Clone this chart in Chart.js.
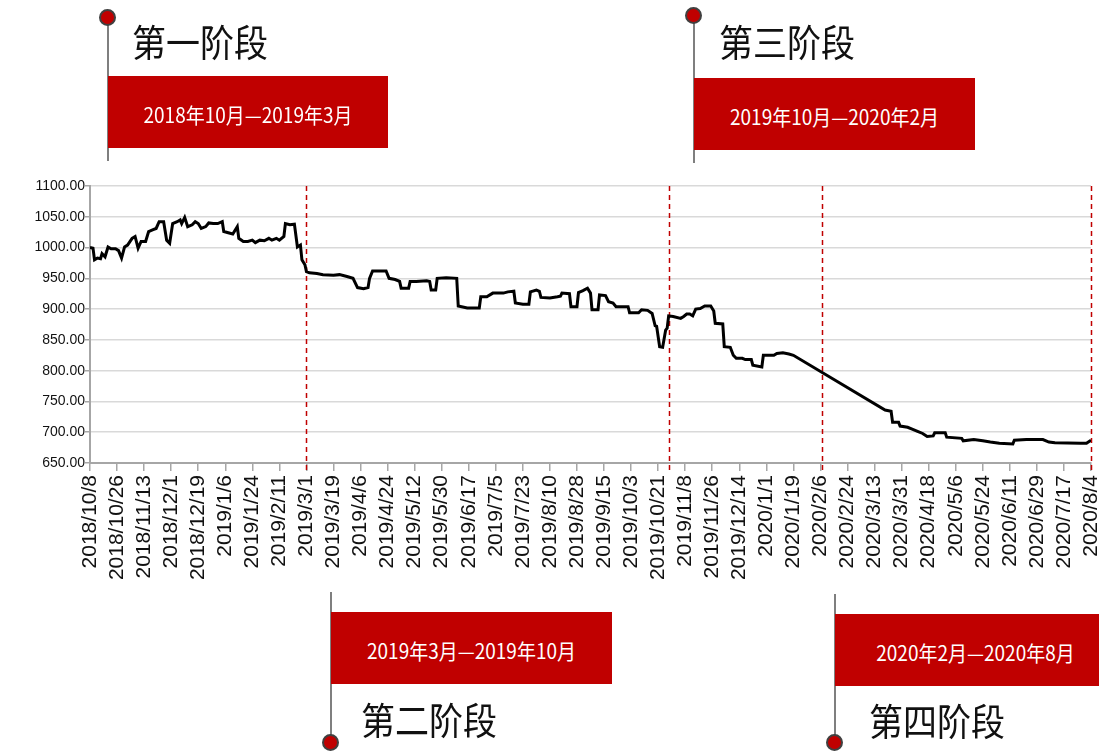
<!DOCTYPE html>
<html>
<head>
<meta charset="utf-8">
<script src="https://cdn.jsdelivr.net/npm/chart.js@4.4.0/dist/chart.umd.min.js"></script>
<style>
  html, body { margin: 0; padding: 0; background: #fff; }
  #wrap { position: relative; width: 1099px; height: 753px; overflow: hidden; }
  #chart { position: absolute; left: 0; top: 0; }
  .stem { position: absolute; width: 2px; background: #7f7f7f; }
  .dot { position: absolute; width: 13px; height: 13px; border-radius: 50%; background: #c00000; border: 2px solid #404040; }
  .box { position: absolute; height: 72px; background: #c00000; color: #fff;
         font: 19px "Noto Sans CJK SC", sans-serif; display: flex; align-items: center; justify-content: center;
         box-sizing: border-box; padding-top: 3px; }
  .box span { display: inline-block; transform: scaleY(1.1); }
  .title { position: absolute; font: 34px "Noto Sans CJK SC", sans-serif; color: #111; line-height: 1;
           transform: scaleY(1.1); transform-origin: left top; white-space: nowrap; }
</style>
</head>
<body>
<div id="wrap">
  <canvas id="chart" width="1099" height="753"></canvas>

  <div class="stem" style="left:107px;top:18px;height:143px"></div>
  <div class="dot" style="left:99px;top:9px"></div>
  <div class="title" style="left:132px;top:23px">第一阶段</div>
  <div class="box" style="left:108px;top:76px;width:280px"><span>2018年10月—2019年3月</span></div>

  <div class="stem" style="left:693px;top:16px;height:147px"></div>
  <div class="dot" style="left:685px;top:7px"></div>
  <div class="title" style="left:719px;top:23px">第三阶段</div>
  <div class="box" style="left:694px;top:78px;width:281px"><span>2019年10月—2020年2月</span></div>

  <div class="stem" style="left:330px;top:592px;height:148px"></div>
  <div class="dot" style="left:322px;top:734px"></div>
  <div class="box" style="left:331px;top:612px;width:281px"><span>2019年3月—2019年10月</span></div>
  <div class="title" style="left:361px;top:701px">第二阶段</div>

  <div class="stem" style="left:834px;top:594px;height:146px"></div>
  <div class="dot" style="left:826px;top:734px"></div>
  <div class="box" style="left:835px;top:614px;width:281px"><span>2020年2月—2020年8月</span></div>
  <div class="title" style="left:869px;top:702px">第四阶段</div>
</div>

<script>
// tick labels on the date axis (every 18 days)
const tickLabels = [
  "2018/10/8", "2018/10/26", "2018/11/13", "2018/12/1", "2018/12/19", "2019/1/6", "2019/1/24",
  "2019/2/11", "2019/3/1", "2019/3/19", "2019/4/6", "2019/4/24", "2019/5/12", "2019/5/30",
  "2019/6/17", "2019/7/5", "2019/7/23", "2019/8/10", "2019/8/28", "2019/9/15", "2019/10/3",
  "2019/10/21", "2019/11/8", "2019/11/26", "2019/12/14", "2020/1/1", "2020/1/19", "2020/2/6",
  "2020/2/24", "2020/3/13", "2020/3/31", "2020/4/18", "2020/5/6", "2020/5/24", "2020/6/11",
  "2020/6/29", "2020/7/17", "2020/8/4"
];

const dates = [
  "2018/10/8", "2018/10/10", "2018/10/11", "2018/10/13", "2018/10/15", "2018/10/16", "2018/10/18", "2018/10/20", "2018/10/22", "2018/10/25", "2018/10/27", "2018/10/29", "2018/10/31",
  "2018/11/2", "2018/11/5", "2018/11/7", "2018/11/9", "2018/11/11", "2018/11/14", "2018/11/16", "2018/11/19", "2018/11/21", "2018/11/23", "2018/11/26", "2018/11/28", "2018/11/30",
  "2018/12/2", "2018/12/5", "2018/12/7", "2018/12/8", "2018/12/10", "2018/12/12", "2018/12/15", "2018/12/17", "2018/12/19", "2018/12/21", "2018/12/24", "2018/12/26", "2018/12/29",
  "2019/1/1", "2019/1/4", "2019/1/5", "2019/1/8", "2019/1/11", "2019/1/14", "2019/1/15", "2019/1/18", "2019/1/21", "2019/1/24", "2019/1/26", "2019/1/29",
  "2019/2/1", "2019/2/4", "2019/2/6", "2019/2/9", "2019/2/11", "2019/2/14", "2019/2/15", "2019/2/18", "2019/2/21", "2019/2/23", "2019/2/25", "2019/2/26", "2019/2/28",
  "2019/3/1", "2019/3/3", "2019/3/8", "2019/3/12", "2019/3/19", "2019/3/23", "2019/3/28", "2019/4/1", "2019/4/4", "2019/4/8", "2019/4/11", "2019/4/12", "2019/4/14", "2019/4/23", "2019/4/25", "2019/4/29",
  "2019/5/2", "2019/5/3", "2019/5/8", "2019/5/9", "2019/5/13", "2019/5/20", "2019/5/22", "2019/5/23", "2019/5/26", "2019/5/27", "2019/6/2", "2019/6/9", "2019/6/10", "2019/6/16", "2019/6/24", "2019/6/25", "2019/6/29",
  "2019/7/3", "2019/7/10", "2019/7/13", "2019/7/17", "2019/7/18", "2019/7/23", "2019/7/27", "2019/7/28", "2019/8/1", "2019/8/3", "2019/8/4", "2019/8/10", "2019/8/15", "2019/8/17", "2019/8/18", "2019/8/23", "2019/8/24", "2019/8/28", "2019/8/29",
  "2019/9/1", "2019/9/4", "2019/9/6", "2019/9/7", "2019/9/11", "2019/9/12", "2019/9/16", "2019/9/18", "2019/9/21", "2019/9/23", "2019/10/1", "2019/10/2", "2019/10/8", "2019/10/10", "2019/10/14", "2019/10/17", "2019/10/19", "2019/10/20", "2019/10/22", "2019/10/24", "2019/10/26", "2019/10/27", "2019/10/28", "2019/10/31",
  "2019/11/5", "2019/11/7", "2019/11/9", "2019/11/11", "2019/11/13", "2019/11/15", "2019/11/18", "2019/11/21", "2019/11/25", "2019/11/27", "2019/11/28", "2019/12/3", "2019/12/4", "2019/12/8", "2019/12/10", "2019/12/12", "2019/12/16", "2019/12/18", "2019/12/22", "2019/12/23", "2019/12/29", "2019/12/30",
  "2020/1/6", "2020/1/8", "2020/1/12", "2020/1/16", "2020/1/19", "2020/3/20", "2020/3/24", "2020/3/25", "2020/3/29", "2020/3/30",
  "2020/4/4", "2020/4/7", "2020/4/11", "2020/4/14", "2020/4/17", "2020/4/21", "2020/4/22", "2020/4/29", "2020/4/30", "2020/5/10", "2020/5/11", "2020/5/18", "2020/5/24", "2020/5/29",
  "2020/6/4", "2020/6/13", "2020/6/14", "2020/6/22", "2020/7/3", "2020/7/7", "2020/7/11", "2020/7/28", "2020/8/1", "2020/8/4"
];

const values = [
  1000, 999, 980, 983, 982, 990, 985, 1001, 998, 998, 995, 983, 1001,
  1004, 1015, 1018, 999, 1010, 1010, 1026, 1029, 1031, 1042, 1042, 1012, 1007,
  1039, 1042, 1045, 1039, 1049, 1034, 1037, 1042, 1039, 1031, 1034, 1040, 1039,
  1039, 1042, 1026, 1024, 1022, 1034, 1015, 1010, 1010, 1012, 1008, 1012,
  1011, 1015, 1012, 1015, 1012, 1018, 1039, 1037, 1038, 1001, 1004, 980, 972,
  961, 959, 958, 956, 955, 956, 953, 950, 935, 933, 935, 950, 962, 962, 950, 948,
  945, 934, 934, 945, 945, 946, 945, 931, 931, 950, 951, 950, 905, 902, 902, 920, 920,
  926, 926, 928, 929, 910, 908, 908, 928, 931, 929, 919, 918, 920, 921, 926, 925, 904, 904, 927,
  930, 934, 926, 899, 899, 923, 922, 912, 910, 904, 904, 894, 894, 899, 898, 893, 873, 872, 839, 838, 866, 869, 889, 888,
  885, 888, 892, 892, 889, 900, 901, 905, 905, 897, 877, 876, 839, 838, 825, 820, 820, 818, 818, 809, 806, 825,
  825, 828, 829, 827, 825, 736, 734, 716, 716, 710,
  708, 705, 701, 698, 693, 694, 699, 699, 692, 690, 686, 688, 686, 684,
  682, 681, 687, 688, 688, 684, 683, 682, 682, 687
];

// stage boundaries (red dashed lines)
const phaseDates = ["2019/3/1", "2019/10/28", "2020/2/7", "2020/8/4"];

const startDate = "2018/10/8";
const endDate = "2020/8/4";

function dayIndex(s) {
  const [y, m, d] = s.split("/").map(Number);
  const [y0, m0, d0] = startDate.split("/").map(Number);
  return Math.round((Date.UTC(y, m - 1, d) - Date.UTC(y0, m0 - 1, d0)) / 86400000);
}

const points = dates.map((d, i) => ({ x: dayIndex(d), y: values[i] }));

const phaseLines = {
  id: "phaseLines",
  beforeDatasetsDraw(chart) {
    const { ctx, chartArea, scales } = chart;
    ctx.save();
    ctx.strokeStyle = "#c00000";
    ctx.lineWidth = 1.5;
    ctx.setLineDash([5, 4]);
    phaseDates.forEach(d => {
      const px = Math.round(scales.x.getPixelForValue(dayIndex(d))) + 0.5;
      ctx.beginPath();
      ctx.moveTo(px, chartArea.top);
      ctx.lineTo(px, chartArea.bottom + 10);
      ctx.stroke();
    });
    ctx.restore();
  }
};

Chart.defaults.font.family = "'Liberation Sans', Arial, sans-serif";
Chart.defaults.color = "#111";

new Chart(document.getElementById("chart"), {
  type: "line",
  data: {
    datasets: [
      {
        data: points,
        borderColor: "#000",
        borderWidth: 3,
        pointRadius: 0,
        tension: 0,
        fill: false
      }
    ]
  },
  options: {
    responsive: false,
    animation: false,
    layout: { padding: { top: 186, right: 8, bottom: 160, left: 0 } },
    plugins: {
      legend: { display: false },
      title: { display: false },
      tooltip: { enabled: false }
    },
    scales: {
      x: {
        type: "linear",
        min: 0,
        max: dayIndex(endDate),
        afterFit: scale => {
          scale.height = 130;
          scale.paddingLeft = 0;
          scale.paddingRight = 0;
        },
        grid: { drawOnChartArea: false, tickLength: 8, color: "#a6a6a6", lineWidth: 1.5 },
        border: { color: "#a6a6a6", width: 2 },
        ticks: {
          stepSize: 18,
          autoSkip: false,
          maxRotation: 90,
          minRotation: 90,
          padding: 4,
          color: "#111",
          font: { size: 21 },
          callback: v => tickLabels[Math.round(v / 18)]
        }
      },
      y: {
        min: 650,
        max: 1100,
        afterFit: scale => { scale.width = 90; },
        grid: { color: "#d9d9d9", lineWidth: 1.5, tickLength: 5, tickColor: "#a6a6a6" },
        border: { color: "#a6a6a6", width: 2 },
        ticks: {
          stepSize: 50,
          padding: 0,
          color: "#111",
          font: { size: 14 },
          callback: v => v.toFixed(2)
        }
      }
    }
  },
  plugins: [phaseLines]
});
</script>
</body>
</html>
